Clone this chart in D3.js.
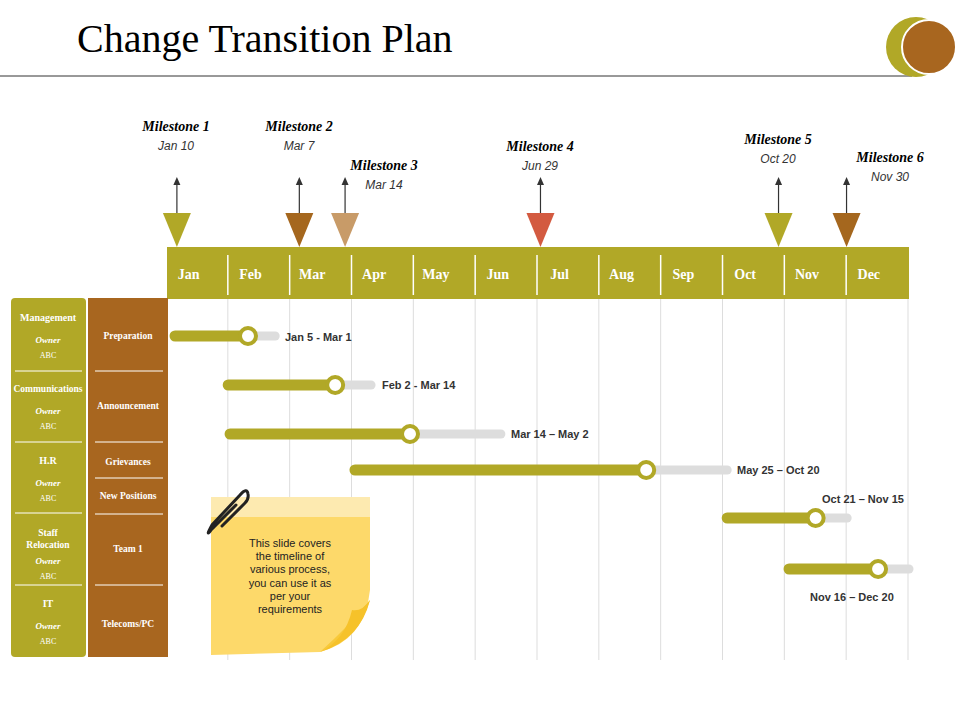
<!DOCTYPE html><html><head><meta charset="utf-8"><script src="https://cdn.jsdelivr.net/npm/d3@7"></script>
<style>body{margin:0;background:#fff}</style></head><body><svg id="c" width="960" height="720"></svg><script>
const months=["Jan","Feb","Mar","Apr","May","Jun","Jul","Aug","Sep","Oct","Nov","Dec"];
const msNames=["Milestone 1","Milestone 2","Milestone 3","Milestone 4","Milestone 5","Milestone 6"];
const msDates=["Jan 10","Mar 7","Mar 14","Jun 29","Oct 20","Nov 30"];
const msPos=[0.16,2.14,2.88,6.04,9.89,10.99];
const msColors=["#b1a827","#a5671e","#c89b68","#d35a40","#b1a827","#a5671e"];
const barStart=[0.13,0.99,1.02,3.04,9.06,10.06];
const barKnob=[1.31,2.72,3.93,7.75,10.49,11.5];
const barEnd=[1.75,3.30,5.40,9.06,11.0,12.0];
const barLabels=["Jan 5 - Mar 1","Feb 2 - Mar 14","Mar 14 – May 2","May 25 – Oct 20","Oct 21 – Nov 15","Nov 16 – Dec 20"];
const groups=["Management","Communications","H.R","Staff Relocation","IT"];
const tasks=["Preparation","Announcement","Grievances","New Positions","Team 1","Telecoms/PC"];
const svg=d3.select("#c");
const OL="#b1a827",BR="#a5671e";
const x=d3.scaleLinear().domain([0,12]).range([167,909]);
const yRow=d3.scalePoint().domain(d3.range(6)).range([336,569]);
const rowY=[336,385,434,470,518,569];
// title
svg.append("text").attr("x",77).attr("y",52).attr("font-family","Liberation Serif").attr("font-size",40).text("Change Transition Plan");
svg.append("line").attr("x1",0).attr("x2",912).attr("y1",76).attr("y2",76).attr("stroke","#333");
svg.append("circle").attr("cx",916).attr("cy",47).attr("r",30).attr("fill",OL);
svg.append("circle").attr("cx",929).attr("cy",47).attr("r",27).attr("fill","#a8661f").attr("stroke","#fff").attr("stroke-width",2);
// grid
svg.selectAll(".g").data(d3.range(1,13)).join("line").attr("x1",d=>x(d)-1).attr("x2",d=>x(d)-1).attr("y1",299).attr("y2",660).attr("stroke","#ddd");
// band
svg.append("rect").attr("x",x(0)).attr("y",247).attr("width",x(12)-x(0)).attr("height",52).attr("fill",OL);
svg.selectAll(".sep").data(d3.range(1,12)).join("line").attr("x1",d=>x(d)-1).attr("x2",d=>x(d)-1).attr("y1",255).attr("y2",295).attr("stroke","#fff").attr("stroke-width",1.5);
svg.selectAll(".m").data(months).join("text").attr("x",(d,i)=>x(i+0.35)).attr("y",279).attr("text-anchor","middle").attr("fill","#fff").attr("font-family","Liberation Serif").attr("font-weight","bold").attr("font-size",14).text(d=>d);
// milestones
const lblPos=[[176,126],[299,126],[384,165],[540,146],[778,139],[890,157]];
msPos.forEach((p,i)=>{const cx=x(p);
 svg.append("path").attr("d",`M${cx-14},213L${cx+14},213L${cx},247Z`).attr("fill",msColors[i]);
 svg.append("line").attr("x1",cx).attr("x2",cx).attr("y1",213).attr("y2",184).attr("stroke","#333").attr("stroke-width",1.2);
 svg.append("path").attr("d",`M${cx-3.5},185L${cx+3.5},185L${cx},177Z`).attr("fill","#333");
 svg.append("text").attr("x",lblPos[i][0]).attr("y",lblPos[i][1]+5).attr("text-anchor","middle").attr("font-family","Liberation Serif").attr("font-style","italic").attr("font-weight","bold").attr("font-size",14).text(msNames[i]);
 svg.append("text").attr("x",lblPos[i][0]).attr("y",lblPos[i][1]+24).attr("text-anchor","middle").attr("font-family","Liberation Sans").attr("font-style","italic").attr("font-size",12).attr("fill","#333").text(msDates[i]);
});
// left panels
svg.append("rect").attr("x",11).attr("y",298).attr("width",75).attr("height",359).attr("rx",4).attr("fill",OL);
svg.append("rect").attr("x",88).attr("y",298).attr("width",80).attr("height",359).attr("fill","#a8661f");
[371,442,513,585].forEach(y=>svg.append("line").attr("x1",15).attr("x2",82).attr("y1",y).attr("y2",y).attr("stroke","#fff"));
[371,442,478,514,585].forEach(y=>svg.append("line").attr("x1",95).attr("x2",163).attr("y1",y).attr("y2",y).attr("stroke","#fff"));
const gY=[[317],[388],[460],[532,544],[603]];
const sf="Liberation Serif";
groups.forEach((g,i)=>{const ys=gY[i];const parts=g==="Staff Relocation"?["Staff","Relocation"]:[g];
 parts.forEach((t,j)=>svg.append("text").attr("x",48).attr("y",ys[j]+4).attr("text-anchor","middle").attr("fill","#fff").attr("font-family",sf).attr("font-weight","bold").attr("font-size",g.length>12?9.5:10).text(t));
 const b=ys[ys.length-1];const oy=i===3?561:b+23;
 svg.append("text").attr("x",48).attr("y",oy+3).attr("text-anchor","middle").attr("fill","#fff").attr("font-family",sf).attr("font-style","italic").attr("font-weight","bold").attr("font-size",9).text("Owner");
 svg.append("text").attr("x",48).attr("y",oy+18).attr("text-anchor","middle").attr("fill","#fff").attr("font-family",sf).attr("font-size",8).text("ABC");
});
const tY=[336,406,462,496,549,624];
tasks.forEach((t,i)=>svg.append("text").attr("x",128).attr("y",tY[i]+3).attr("text-anchor","middle").attr("fill","#fff").attr("font-family",sf).attr("font-weight","bold").attr("font-size",9.5).text(t));
// bars
const lblXY=[[285,341],[382,389],[511,438],[737,474],[822,503],[810,601]];
barStart.forEach((s,i)=>{const y=rowY[i];
 svg.append("line").attr("x1",x(s)).attr("x2",x(barEnd[i])).attr("y1",y).attr("y2",y).attr("stroke","#ddd").attr("stroke-width",9).attr("stroke-linecap","round");
 svg.append("line").attr("x1",x(s)).attr("x2",x(barKnob[i])).attr("y1",y).attr("y2",y).attr("stroke",OL).attr("stroke-width",11).attr("stroke-linecap","round");
 svg.append("circle").attr("cx",x(barKnob[i])).attr("cy",y).attr("r",8).attr("fill","#fff").attr("stroke",OL).attr("stroke-width",4);
 svg.append("text").attr("x",lblXY[i][0]).attr("y",lblXY[i][1]).attr("font-family","Liberation Sans").attr("font-weight","bold").attr("font-size",11).attr("fill","#333").text(barLabels[i]);
});
// sticky note
svg.append("path").attr("d","M211,497L370,497L370,590Q365,640 320,652L211,655Z").attr("fill","#fdd96a");
svg.append("rect").attr("x",211).attr("y",497).attr("width",159).attr("height",20).attr("fill","#fdeab0");
svg.append("path").attr("d","M370,600Q360,635 320,652Q350,625 370,600Z").attr("fill","#f8c93a");
svg.append("path").attr("d","M320,652Q345,640 352,610Q362,612 370,600Q360,640 320,652Z").attr("fill","#f6c22a");
const noteLines=["This slide covers","the timeline of","various process,","you can use it as","per your","requirements"];
noteLines.forEach((t,i)=>svg.append("text").attr("x",290).attr("y",547+i*13.2).attr("text-anchor","middle").attr("font-family","Liberation Sans").attr("font-size",11).attr("fill","#222").text(t));
svg.append("path").attr("d","M236,505L211,530Q205,538 212,525L240,495Q247,487 248,494Q249,499 245,503L222,526").attr("fill","none").attr("stroke","#222").attr("stroke-width",3).attr("stroke-linecap","round");
</script></body></html>
